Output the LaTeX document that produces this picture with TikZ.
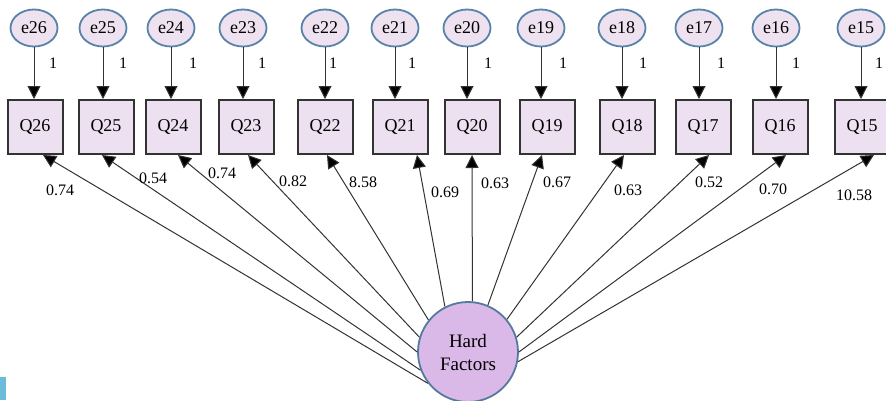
\documentclass[tikz,border=0pt]{standalone}
\usepackage{fontspec}
\setmainfont{Liberation Serif}
\usetikzlibrary{arrows.meta,shapes.geometric}
\definecolor{boxfill}{RGB}{237,224,240}
\definecolor{errfill}{RGB}{238,226,240}
\definecolor{errline}{RGB}{88,130,168}
\definecolor{latfill}{RGB}{218,184,232}
\definecolor{latline}{RGB}{84,122,160}
\definecolor{edgeblue}{RGB}{107,187,219}
\tikzset{
  errnode/.style={ellipse,draw=errline,line width=1.8pt,fill=errfill,
    minimum width=47pt,minimum height=37pt,inner sep=0pt,
    font=\fontsize{18}{20}\selectfont},
  itembox/.style={rectangle,draw=black!80,line width=2pt,fill=boxfill,
    minimum width=55pt,minimum height=54pt,inner sep=0pt,
    font=\fontsize{18}{20}\selectfont},
  latent/.style={circle,draw=latline,line width=1.8pt,fill=latfill,
    minimum size=100pt,inner sep=0pt,align=center,
    font=\fontsize{19}{23}\selectfont},
  path/.style={draw=black!80,line width=1pt,
    -{Triangle[length=13pt,width=13pt,fill=black]}},
  wlabel/.style={font=\fontsize{16}{18}\selectfont,inner sep=0pt}
}
\begin{document}
\begin{tikzpicture}[x=1pt,y=-1pt]
\useasboundingbox (0,0) rectangle (886,400);
\fill[edgeblue] (0,377) rectangle (6,400);

% latent factor
\node[latent] (HF) at (468,352) {Hard\\Factors};

% error terms, observed items, unit loadings
\foreach \n/\ex/\qx/\lx in {26/34/35/53, 25/103/106/123, 24/171/173/193,
    23/243/246/262, 22/325/325/333, 21/395/400/412, 20/467/472/488,
    19/541/547/563, 18/622/627/643, 17/699/703/721, 16/776/780/796,
    15/861/862/879}{
  \node[itembox] (Q\n) at (\qx,127) {Q\n};
  \node[errnode] (e\n) at (\ex,28) {e\n};
  \draw[path] (e\n.south) -- (e\n.south |- Q\n.north);
  \node[wlabel] (one\n) at (\lx,63) {1};
}

% factor loadings
\foreach \n/\ang/\off/\w/\wx/\wy in {26/218/8/0.74/60/190, 25/201/-4/0.54/153/178,
    24/180/5/0.74/222/173, 23/163/2/0.82/293/181, 22/141/2/8.58/363/182,
    21/117/17/0.69/445/192, 20/85/0/0.63/495/183, 19/67/-5/0.67/557/182,
    18/40/-3/0.63/628/190, 17/17/6/0.52/709/182, 16/0/6/0.70/773/189,
    15/-11/12/10.58/854/195}{
  \draw[path] (HF.\ang) -- ([xshift=\off pt]Q\n.south);
  \node[wlabel] (w\n) at (\wx,\wy) {\w};
}
\end{tikzpicture}
\end{document}
